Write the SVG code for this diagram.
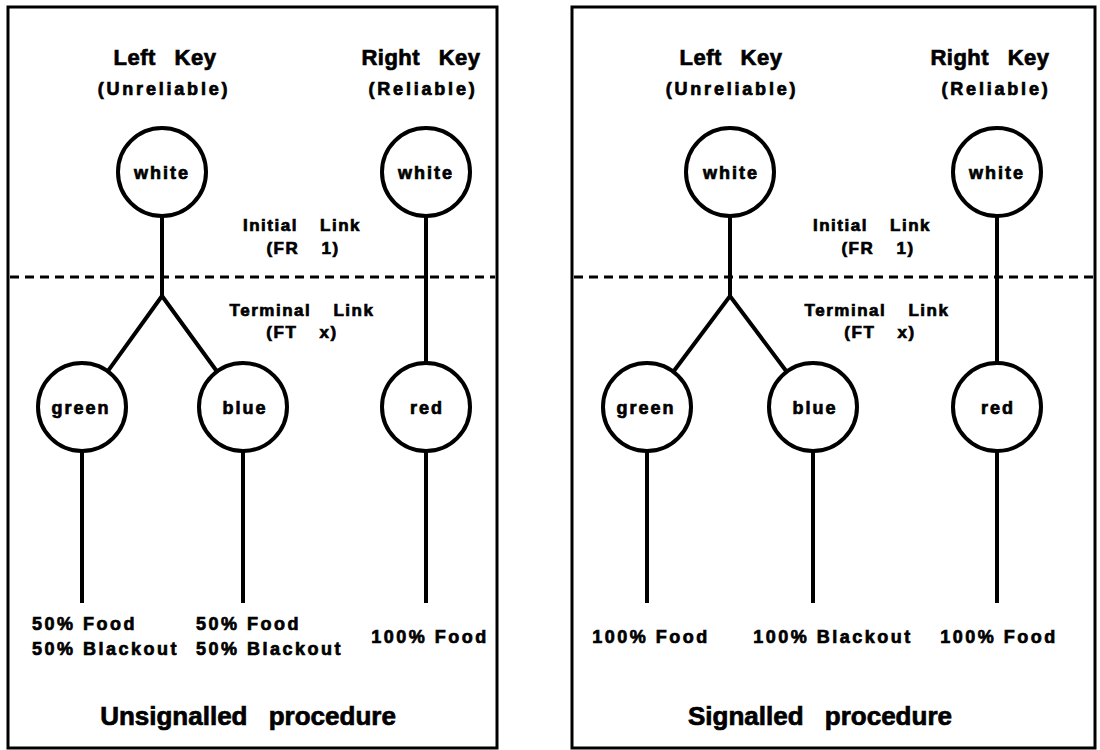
<svg xmlns="http://www.w3.org/2000/svg" width="1100" height="750" viewBox="0 0 1100 750">
<style>
.panel{fill:#fff;stroke:#000;stroke-width:3}
.node circle{fill:#fff;stroke:#000;stroke-width:4}
.conn line,.conn polyline{stroke:#000;stroke-width:4;fill:none}
.dash{stroke:#000;stroke-width:3;stroke-dasharray:9 6}
text{font-family:"Liberation Sans",Arial,sans-serif;font-weight:bold;fill:#000;stroke:#000;stroke-width:0.7}
.h{font-size:22px;text-anchor:middle;word-spacing:12px;letter-spacing:0.5px}
.s{font-size:18px;text-anchor:middle;letter-spacing:2.8px}
.n{font-size:18px;text-anchor:middle;letter-spacing:2px}
.k{font-size:17px;text-anchor:middle;word-spacing:16px;letter-spacing:1.5px}
.l{font-size:18px;letter-spacing:2.5px}
.lc{font-size:18px;letter-spacing:2.5px;text-anchor:middle}
.t{font-size:26px;text-anchor:middle;word-spacing:14px}
</style>
<rect width="1100" height="750" fill="#fff"/>
<rect class="panel" x="8" y="7" width="489" height="741"/>
<rect class="panel" x="572" y="7" width="523" height="741"/>
<line class="dash" x1="10" y1="277" x2="495" y2="277"/>
<line class="dash" x1="574" y1="277" x2="1093" y2="277"/>
<g class="conn" id="connectors">
<line x1="162" y1="216" x2="162" y2="296"/>
<polyline points="107.7,371.4 162,296 217,371.5"/>
<line x1="426" y1="216" x2="426" y2="363"/>
<line x1="82" y1="451" x2="82" y2="603"/>
<line x1="243" y1="451" x2="243" y2="603"/>
<line x1="426" y1="451" x2="426" y2="603"/>
<line x1="730" y1="216" x2="730" y2="296"/>
<polyline points="673.3,371.8 730,296 786.7,371.8"/>
<line x1="997" y1="216" x2="997" y2="363"/>
<line x1="647" y1="451" x2="647" y2="603"/>
<line x1="813" y1="451" x2="813" y2="603"/>
<line x1="997" y1="451" x2="997" y2="603"/>
</g>
<g id="labels-left">
<text class="h" x="165" y="65">Left Key</text>
<text class="s" x="164" y="95">(Unreliable)</text>
<text class="h" x="421" y="65">Right Key</text>
<text class="s" x="423" y="95">(Reliable)</text>
<text class="k" x="302" y="231">Initial Link</text>
<text class="k" x="303" y="254">(FR 1)</text>
<text class="k" x="302" y="316">Terminal Link</text>
<text class="k" x="302" y="338">(FT x)</text>
<text class="l" x="32" y="630">50% Food</text>
<text class="l" x="32" y="655">50% Blackout</text>
<text class="l" x="196" y="630">50% Food</text>
<text class="l" x="196" y="655">50% Blackout</text>
<text class="lc" x="430" y="643">100% Food</text>
<text class="t" x="248" y="725">Unsignalled procedure</text>
</g>
<g id="labels-right">
<text class="h" x="731" y="65">Left Key</text>
<text class="s" x="732" y="95">(Unreliable)</text>
<text class="h" x="990" y="65">Right Key</text>
<text class="s" x="996" y="95">(Reliable)</text>
<text class="k" x="872" y="231">Initial Link</text>
<text class="k" x="878" y="254">(FR 1)</text>
<text class="k" x="877" y="316">Terminal Link</text>
<text class="k" x="880" y="338">(FT x)</text>
<text class="lc" x="651" y="643">100% Food</text>
<text class="lc" x="833" y="643">100% Blackout</text>
<text class="lc" x="999" y="643">100% Food</text>
<text class="t" x="820" y="725">Signalled procedure</text>
</g>
<g class="node" id="L-white-left"><circle cx="162" cy="172" r="44"/><text class="n" x="162" y="179">white</text></g>
<g class="node" id="L-white-right"><circle cx="426" cy="172" r="44"/><text class="n" x="426" y="179">white</text></g>
<g class="node" id="L-green"><circle cx="82" cy="407" r="44"/><text class="n" x="81" y="414">green</text></g>
<g class="node" id="L-blue"><circle cx="243" cy="407" r="44"/><text class="n" x="245" y="414">blue</text></g>
<g class="node" id="L-red"><circle cx="426" cy="407" r="44"/><text class="n" x="427" y="414">red</text></g>
<g class="node" id="R-white-left"><circle cx="730" cy="172" r="44"/><text class="n" x="731" y="179">white</text></g>
<g class="node" id="R-white-right"><circle cx="997" cy="172" r="44"/><text class="n" x="997" y="179">white</text></g>
<g class="node" id="R-green"><circle cx="647" cy="407" r="44"/><text class="n" x="646" y="414">green</text></g>
<g class="node" id="R-blue"><circle cx="813" cy="407" r="44"/><text class="n" x="815" y="414">blue</text></g>
<g class="node" id="R-red"><circle cx="997" cy="407" r="44"/><text class="n" x="998" y="414">red</text></g>
</svg>
